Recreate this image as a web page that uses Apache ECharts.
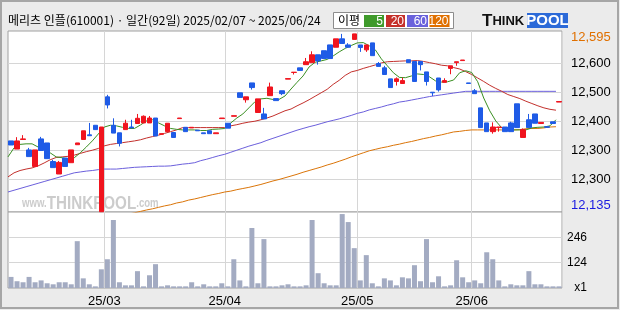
<!DOCTYPE html>
<html><head><meta charset="utf-8">
<script src="https://cdn.jsdelivr.net/npm/echarts@6/dist/echarts.min.js"></script>
<style>html,body{margin:0;padding:0;background:#ebebeb}#c{width:620px;height:310px}</style>
</head><body><div id="c"></div>
<script>
const titleText = '메리츠 인플(610001) · 일간(92일) 2025/02/07 ~ 2025/06/24';
const dates = ['2025/02/07','2025/02/10','2025/02/11','2025/02/12','2025/02/13','2025/02/14','2025/02/17','2025/02/18','2025/02/19','2025/02/20','2025/02/21','2025/02/24','2025/02/25','2025/02/26','2025/02/27','2025/02/28',
'2025/03/04','2025/03/05','2025/03/06','2025/03/07','2025/03/10','2025/03/11','2025/03/12','2025/03/13','2025/03/14','2025/03/17','2025/03/18','2025/03/19','2025/03/20','2025/03/21','2025/03/24','2025/03/25','2025/03/26','2025/03/27','2025/03/28','2025/03/31',
'2025/04/01','2025/04/02','2025/04/03','2025/04/04','2025/04/07','2025/04/08','2025/04/09','2025/04/10','2025/04/11','2025/04/14','2025/04/15','2025/04/16','2025/04/17','2025/04/18','2025/04/21','2025/04/22','2025/04/23','2025/04/24','2025/04/25','2025/04/28','2025/04/29','2025/04/30',
'2025/05/02','2025/05/07','2025/05/08','2025/05/09','2025/05/12','2025/05/13','2025/05/14','2025/05/15','2025/05/16','2025/05/19','2025/05/20','2025/05/21','2025/05/22','2025/05/23','2025/05/26','2025/05/27','2025/05/28','2025/05/29','2025/05/30',
'2025/06/02','2025/06/04','2025/06/05','2025/06/09','2025/06/10','2025/06/11','2025/06/12','2025/06/13','2025/06/16','2025/06/17','2025/06/18','2025/06/19','2025/06/20','2025/06/23','2025/06/24'];

const openP = [12332,12304,12337,12301,12244,12339,12325,12261,12218,12273,
12257,12319,12337,12353,12386,12088,12484,12386,12360,12371,
12380,12392,12394,12394,12411,12355,12364,12361,12409,12379,
12377,12369,12360,12367,12357,12409,12393,12417,12498,12474,
12532,12430,12425,12488,12478,12505,12545,12568,12584,12595,
12602,12629,12643,12663,12655,12684,12663,12682,12663,12646,
12670,12599,12584,12546,12537,12530,12612,12606,12606,12570,
12500,12549,12534,12582,12602,12609,12532,12505,12446,12394,
12364,12378,12380,12394,12460,12344,12405,12425,12392,12381,
12398,12466];
const closeP = [12318,12332,12339,12278,12301,12299,12271,12240,12258,12244,
12301,12325,12367,12350,12371,12380,12456,12359,12324,12393,
12377,12410,12417,12411,12349,12357,12393,12344,12411,12364,
12379,12367,12357,12357,12360,12411,12376,12419,12482,12484,
12516,12477,12408,12518,12471,12495,12547,12569,12575,12605,
12629,12608,12616,12616,12684,12668,12655,12701,12654,12663,
12626,12589,12561,12516,12546,12540,12602,12537,12595,12537,
12498,12508,12540,12591,12605,12611,12530,12495,12378,12364,
12380,12380,12364,12364,12378,12371,12378,12393,12396,12379,
12392,12468];
const lowP = [12318,12304,12337,12278,12244,12299,12271,12240,12218,12244,
12257,12319,12337,12350,12371,12088,12444,12359,12313,12371,
12377,12392,12394,12394,12349,12355,12364,12344,12409,12364,
12377,12367,12357,12357,12357,12409,12376,12417,12482,12464,
12509,12430,12408,12488,12471,12490,12545,12561,12575,12595,
12602,12595,12616,12616,12655,12668,12655,12682,12639,12639,
12626,12589,12561,12516,12523,12530,12602,12537,12575,12523,
12487,12502,12534,12562,12591,12609,12530,12495,12378,12364,
12357,12364,12364,12364,12378,12344,12378,12393,12392,12379,
12392,12466];
const highP = [12332,12345,12352,12308,12301,12346,12325,12267,12263,12273,
12301,12325,12367,12394,12386,12380,12491,12410,12360,12405,
12405,12425,12420,12418,12411,12357,12393,12361,12411,12379,
12379,12369,12360,12367,12360,12411,12393,12419,12498,12484,
12532,12477,12446,12533,12478,12505,12547,12569,12584,12618,
12641,12629,12643,12663,12684,12701,12669,12701,12663,12663,
12670,12604,12591,12546,12551,12550,12612,12606,12606,12570,
12500,12549,12548,12591,12605,12611,12532,12511,12446,12394,
12396,12380,12380,12398,12460,12375,12425,12425,12396,12381,
12398,12468];

const ma5 = [12277,12308,12320,12322,12322,12311,12305,12291,12277,12274,
12270,12274,12291,12311,12332,12356,12380,12386,12384,12379,
12375,12375,12387,12401,12405,12394,12384,12375,12372,12370,
12370,12370,12368,12368,12372,12373,12375,12394,12411,12425,
12446,12467,12477,12479,12475,12475,12487,12511,12534,12556,
12587,12603,12608,12613,12625,12639,12651,12661,12670,12671,
12660,12646,12615,12591,12567,12551,12550,12556,12563,12561,
12553,12539,12535,12536,12542,12567,12574,12568,12536,12480,
12436,12401,12377,12372,12370,12370,12370,12377,12379,12380,
12384,12405];
const ma20 = [12208,12222,12230,12235,12239,12246,12256,12267,12275,12277,
12279,12283,12289,12295,12300,12306,12315,12320,12323,12326,
12329,12332,12336,12342,12347,12352,12358,12364,12370,12378,
12378,12378,12378,12378,12378,12378,12378,12384,12388,12393,
12397,12400,12405,12411,12418,12427,12436,12442,12453,12463,
12474,12486,12498,12510,12527,12541,12558,12570,12575,12582,
12588,12594,12601,12605,12606,12607,12608,12608,12609,12606,
12602,12598,12593,12591,12585,12580,12571,12561,12549,12537,
12524,12513,12503,12492,12485,12478,12469,12461,12453,12446,
12441,12438];
const ma60 = [12156,12162,12168,12174,12180,12186,12192,12198,12204,12210,
12216,12222,12225,12228,12230,12233,12235,12235,12235,12237,
12239,12241,12242,12243,12244,12245,12245,12246,12249,12252,
12254,12257,12264,12269,12275,12281,12286,12293,12300,12307,
12314,12320,12326,12334,12341,12348,12355,12362,12369,12375,
12381,12386,12392,12398,12403,12408,12414,12420,12427,12432,
12439,12444,12449,12455,12460,12466,12469,12473,12477,12481,
12485,12488,12491,12494,12497,12500,12503,12503,12503,12503,
12503,12503,12503,12503,12503,12503,12503,12503,12503,12503,
12503,12503];
const ma120 = [11987,11991,11996,12000,12005,12010,12015,12019,12024,12028,
12033,12038,12042,12047,12052,12056,12061,12066,12070,12075,
12080,12084,12089,12094,12098,12103,12108,12112,12118,12122,
12128,12132,12137,12142,12147,12151,12156,12159,12164,12168,
12172,12177,12182,12188,12194,12199,12205,12211,12217,12224,
12230,12236,12242,12249,12255,12262,12269,12277,12284,12291,
12298,12303,12308,12312,12317,12321,12326,12330,12335,12340,
12344,12349,12353,12358,12363,12365,12368,12370,12370,12370,
12370,12370,12370,12370,12370,12371,12374,12375,12375,12377,
12380,12381];

const volume = [54,33,28,54,28,37,23,18,28,28,
18,228,47,18,8,91,140,331,28,13,
13,82,8,62,116,8,13,8,8,8,
28,8,18,8,8,23,8,140,37,8,
292,23,238,8,8,13,18,8,8,13,
331,72,23,13,13,360,321,194,37,160,
23,8,47,37,13,52,47,111,33,238,
28,57,8,13,135,52,28,37,23,174,
140,37,8,18,13,13,82,18,18,8,
8,8];

const priceTicks = [12200,12300,12400,12500,12600];
const priceTickLabels = ['12,300','12,300','12,400','12,500','12,600'];
const priceHighTick = 12690, priceHighLabel = '12,595';
const priceLowTick = 12111, priceLowLabel = '12,135';
const volTicks = [0,124,246];
const volTickLabels = ['x1','124','246'];
const maNames = ['5','20','60','120'];
const maColors = ['#3a8f22','#c3302c','#6b5fdc','#da7408'];
const legendColors = ['#3f9a2b','#c5302a','#6a62dc','#e07000'];

const FONT = 'Liberation Sans';
const KFONT = '"Noto Sans CJK KR"';
const candles = dates.map((d, i) => [openP[i], closeP[i], lowP[i], highP[i]]);
const cats93 = dates.concat(['']);
const isMonthStart = i => i > 0 && i < dates.length && dates[i].slice(5, 7) !== dates[i - 1].slice(5, 7);
const gridLine = {show: true, interval: (i) => isMonthStart(i), lineStyle: {color: '#d6d6d6', width: 1}};

const chart = echarts.init(document.getElementById('c'), null, {renderer: 'canvas'});

const legendBoxes = [];
const boxX = [364, 386, 407, 429.5], boxW = [20, 19, 21, 20];
maNames.forEach((n, k) => {
  legendBoxes.push({type: 'rect', shape: {x: boxX[k], y: 15, width: boxW[k], height: 12}, style: {fill: legendColors[k]}, z: 10});
  legendBoxes.push({type: 'text', x: boxX[k] + boxW[k] - 1, y: 21.5, style: {text: n, fill: '#fff', font: '12px ' + FONT, align: 'right', verticalAlign: 'middle'}, z: 11});
});

const option = {
  backgroundColor: '#ebebeb',
  animation: false,
  grid: [
    {left: 8, right: 58, top: 31, height: 181, show: true, backgroundColor: '#fff', borderColor: '#a0a0a0', borderWidth: 1},
    {left: 8, right: 58, top: 212, height: 76, show: true, backgroundColor: '#fff', borderColor: '#a0a0a0', borderWidth: 1}
  ],
  xAxis: [
    {type: 'category', gridIndex: 0, position: 'bottom', data: dates, boundaryGap: true, axisLine: {show: false}, axisTick: {show: false}, axisLabel: {show: false}, splitLine: gridLine},
    {type: 'category', gridIndex: 0, position: 'bottom', data: cats93, boundaryGap: false, show: false},
    {type: 'category', gridIndex: 1, position: 'bottom', data: dates, boundaryGap: true, axisLine: {show: false}, axisTick: {show: false}, axisLabel: {show: false}, splitLine: gridLine},
    {type: 'category', gridIndex: 1, position: 'bottom', data: cats93, boundaryGap: false, axisLine: {show: false}, axisTick: {show: false}, splitLine: {show: false},
      axisLabel: {show: true, interval: (i) => isMonthStart(i), formatter: (v) => v.slice(2, 4) + '/' + v.slice(5, 7), margin: 7, color: '#000', fontFamily: FONT, fontSize: 13}}
  ],
  yAxis: [
    {type: 'value', gridIndex: 0, position: 'right', min: 12087, max: 12711,
      axisLine: {show: false}, axisTick: {show: false, customValues: priceTicks},
      splitLine: {show: true, lineStyle: {color: '#d6d6d6'}},
      axisLabel: {customValues: [priceLowTick].concat(priceTicks, [priceHighTick]), margin: 9, align: 'left', color: '#000', fontFamily: FONT, fontSize: 13,
        formatter: (v) => {
          if (Math.abs(v - priceHighTick) < 0.5) return '{hi|' + priceHighLabel + '}';
          if (Math.abs(v - priceLowTick) < 0.5) return '{lo|' + priceLowLabel + '}';
          const k = priceTicks.indexOf(Math.round(v));
          return k >= 0 ? priceTickLabels[k] : '';
        },
        rich: {hi: {color: '#e07000', fontFamily: FONT, fontSize: 13}, lo: {color: '#1a1ae0', fontFamily: FONT, fontSize: 13}}}
    },
    {type: 'value', gridIndex: 1, position: 'right', min: 0, max: 370,
      axisLine: {show: false}, axisTick: {show: false, customValues: [124, 246]},
      splitLine: {show: true, lineStyle: {color: '#d6d6d6'}},
      axisLabel: {customValues: volTicks, margin: 25, align: 'right', color: '#000', fontFamily: FONT, fontSize: 12,
        formatter: (v) => { const k = volTicks.indexOf(Math.round(v)); return k >= 0 ? volTickLabels[k] : ''; }}
    }
  ],
  series: [
    {name: maNames[3], type: 'line', xAxisIndex: 1, yAxisIndex: 0, data: ma120, symbol: 'none', lineStyle: {color: maColors[3], width: 1}, z: 2, silent: true},
    {name: maNames[2], type: 'line', xAxisIndex: 1, yAxisIndex: 0, data: ma60, symbol: 'none', lineStyle: {color: maColors[2], width: 1}, z: 2, silent: true},
    {name: maNames[1], type: 'line', xAxisIndex: 1, yAxisIndex: 0, data: ma20, symbol: 'none', lineStyle: {color: maColors[1], width: 1}, z: 2, silent: true},
    {name: maNames[0], type: 'line', xAxisIndex: 1, yAxisIndex: 0, data: ma5, symbol: 'none', lineStyle: {color: maColors[0], width: 1}, z: 2, silent: true},
    {type: 'candlestick', xAxisIndex: 0, yAxisIndex: 0, data: candles, barWidth: 5, clip: true, z: 3,
      itemStyle: {color: '#f0141e', color0: '#1f5be6', borderColor: '#f0141e', borderColor0: '#1f5be6', borderWidth: 1}},
    {type: 'bar', xAxisIndex: 2, yAxisIndex: 1, data: volume, barWidth: 5, itemStyle: {color: '#a3abc2'}, silent: true}
  ],
  graphic: [
    {type: 'rect', shape: {x: 1, y: 1, width: 617, height: 307}, style: {fill: 'none', stroke: '#a6a6a6', lineWidth: 2}, z: 20},
    {type: 'text', x: 8, y: 20, style: {text: titleText, fill: '#000', font: '12px ' + KFONT, align: 'left', verticalAlign: 'middle'}, z: 10},
    {type: 'rect', shape: {x: 333.5, y: 12.5, width: 120, height: 16}, style: {fill: '#fff', stroke: '#8c8c8c', lineWidth: 1}, z: 9},
    {type: 'text', x: 338, y: 20.5, style: {text: '이평', fill: '#000', font: '12px ' + KFONT, align: 'left', verticalAlign: 'middle'}, z: 10},
    ...legendBoxes,
    {type: 'text', x: 482, y: 21, style: {text: '{a|T}{b|HINK}', fill: '#111', align: 'left', verticalAlign: 'middle',
      rich: {a: {font: 'bold 17px ' + FONT, fill: '#111'}, b: {font: 'bold 13px ' + FONT, fill: '#111'}}}, z: 10},
    {type: 'rect', shape: {x: 527, y: 13, width: 41, height: 15}, style: {fill: '#2c6ad8'}, z: 10},
    {type: 'text', x: 547.5, y: 21, style: {text: 'POOL', fill: '#fff', font: 'bold 15px ' + FONT, align: 'center', verticalAlign: 'middle'}, z: 11},
    {type: 'text', x: 22, y: 213, scaleX: 0.8, style: {text: '{w|www.}{t|THINKPOOL}{c|.com}', align: 'left', verticalAlign: 'bottom',
      rich: {w: {font: 'bold 12px ' + FONT, fill: '#cccccc'}, t: {font: 'bold 19px ' + FONT, fill: '#cccccc'}, c: {font: 'bold 12px ' + FONT, fill: '#cccccc'}}}, z: 1}
  ]
};
chart.setOption(option);
</script></body></html>
